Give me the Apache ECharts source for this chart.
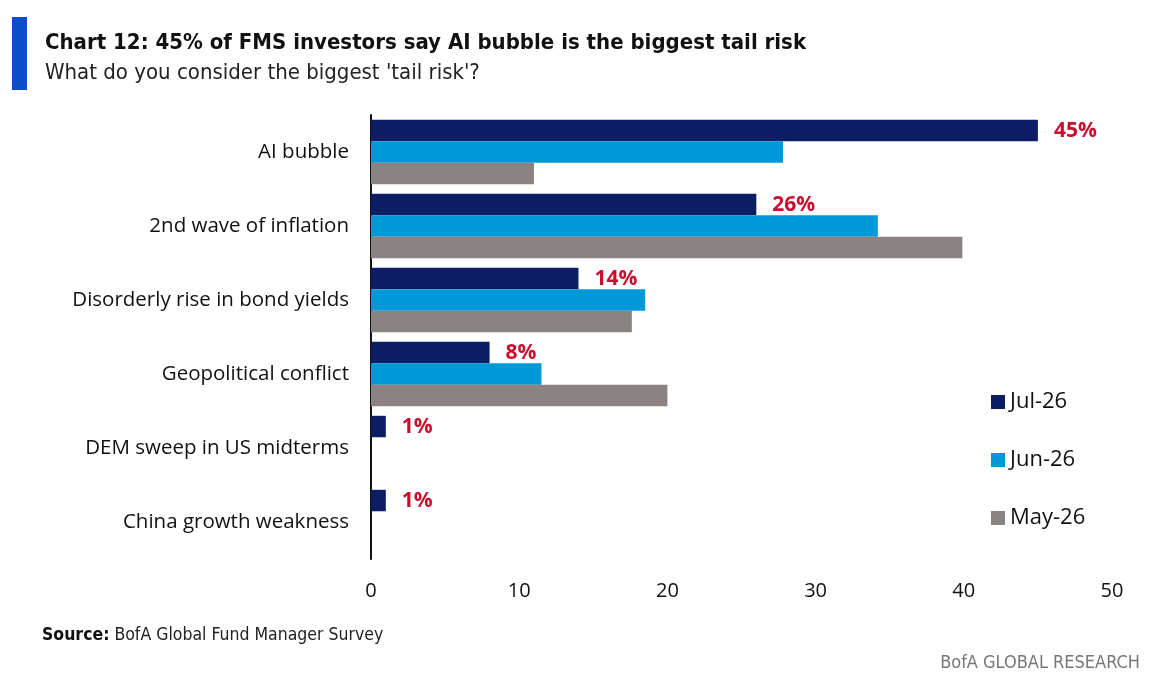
<!DOCTYPE html>
<html>
<head>
    <meta charset="utf-8">
    <title>ECharts</title>
    <script src="https://cdn.jsdelivr.net/npm/echarts@6/dist/echarts.min.js"></script>
    <style>
        html, body { margin: 0; padding: 0; background: #fff; }
    </style>
</head>
<body>
    <div id="main" style="width: 1152px;height:687px;"></div>
    <script type="text/javascript">
        var categories = ['AI bubble', '2nd wave of inflation', 'Disorderly rise in bond yields',
            'Geopolitical conflict', 'DEM sweep in US midterms', 'China growth weakness'];
        var jul26 = [45, 26, 14, 8, 1, 1];
        var jun26 = [27.8, 34.2, 18.5, 11.5, null, null];
        var may26 = [11, 39.9, 17.6, 20, null, null];
        var xTicks = [0, 10, 20, 30, 40, 50];

        var narrow = '"Liberation Sans Narrow", "DejaVu Sans Condensed", sans-serif';
        var body = '"Open Sans", "Noto Sans", sans-serif';

        var myChart = echarts.init(document.getElementById('main'));

        option = {
  backgroundColor: '#fff',
  animation: false,
  title: {
    text: 'Chart 12: 45% of FMS investors say AI bubble is the biggest tail risk',
    subtext: "What do you consider the biggest 'tail risk'?",
    left: 40,
    top: 27,
    itemGap: 8,
    textStyle: { fontFamily: narrow, fontSize: 22, fontWeight: 'bold', color: '#111' },
    subtextStyle: { fontFamily: narrow, fontSize: 22, color: '#222' }
  },
  graphic: [
    { type: 'rect', left: 12, top: 17, shape: { width: 15, height: 73 }, style: { fill: '#0a4cc9' } },
    {
      type: 'text', left: 42, top: 626,
      style: {
        text: '{b|Source:} BofA Global Fund Manager Survey',
        font: '17.5px ' + narrow, fill: '#222',
        rich: { b: { fontFamily: narrow, fontSize: 17.5, fontWeight: 'bold', fill: '#111' } }
      }
    },
    {
      type: 'text', right: 12, top: 654,
      style: { text: 'BofA GLOBAL RESEARCH', font: '18px ' + narrow, fill: '#777' }
    }
  ],
  legend: {
    orient: 'vertical',
    left: 986,
    top: 386,
    itemWidth: 14,
    itemHeight: 14,
    itemGap: 36,
    icon: 'rect',
    textStyle: { fontFamily: body, fontSize: 22, color: '#111' },
    data: ['Jul-26', 'Jun-26', 'May-26']
  },
  grid: { left: 371, right: 40, top: 115, bottom: 128 },
  xAxis: {
    type: 'value',
    min: 0,
    max: 50,
    interval: 10,
    axisLine: { show: false },
    axisTick: { show: false },
    splitLine: { show: false },
    axisLabel: {
      margin: 22, fontFamily: body, fontSize: 20, color: '#111',
      formatter: function (v) { return xTicks.indexOf(v) >= 0 ? String(v) : ''; }
    }
  },
  yAxis: {
    type: 'category',
    inverse: true,
    data: categories,
    axisLine: { lineStyle: { color: '#111', width: 2 } },
    axisTick: { show: false },
    axisLabel: { margin: 22, fontFamily: body, fontSize: 20.5, color: '#111' }
  },
  series: [
    {
      name: 'Jul-26', type: 'bar', data: jul26,
      barGap: '0%', barCategoryGap: '13%',
      itemStyle: { color: '#0c1d63' },
      label: {
        show: true, position: 'right', distance: 16,
        formatter: '{c}%',
        fontFamily: body, fontSize: 21, fontWeight: 'bold', color: '#c8102e'
      }
    },
    { name: 'Jun-26', type: 'bar', data: jun26, itemStyle: { color: '#0099d8' } },
    { name: 'May-26', type: 'bar', data: may26, itemStyle: { color: '#8b8282' } }
  ]
};

        myChart.setOption(option);
    </script>
</body>
</html>
